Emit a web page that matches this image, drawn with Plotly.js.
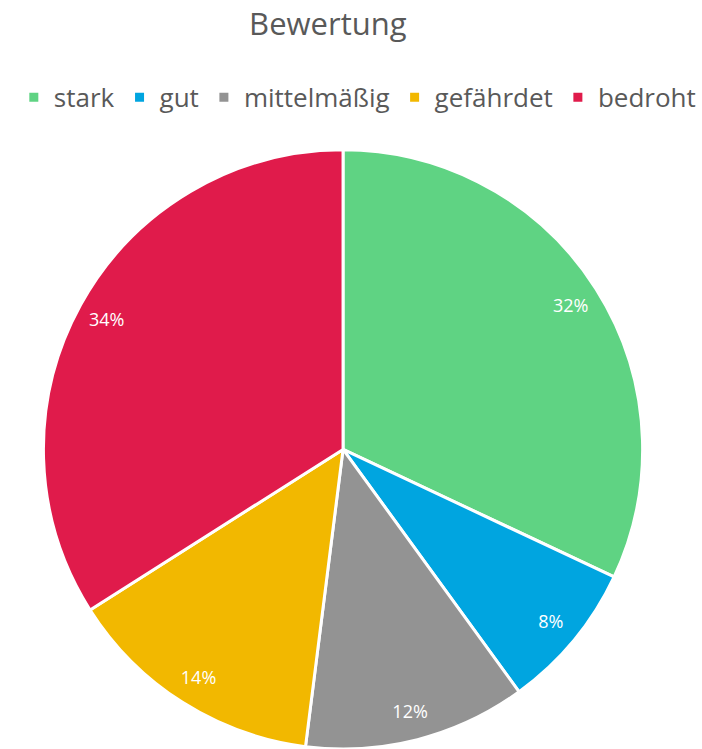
<!DOCTYPE html>
<html>
<head>
<meta charset="utf-8">
<script src="https://cdn.plot.ly/plotly-3.0.1.min.js"></script>
<style>html,body{margin:0;padding:0;background:#fff;}#chart{width:702px;height:749px;}</style>
</head>
<body>
<div id="chart"></div>
<script>
const categories = ["stark", "gut", "mittelmäßig", "gefährdet", "bedroht"];
const values = [32, 8, 12, 14, 34];
const colors = ["#5FD383", "#00A5E0", "#939393", "#F2B800", "#E01B4B"];
const chartTitle = "Bewertung";

const FONT = "'Open Sans', sans-serif";
const DOMAIN = {x: [0.0613, 0.916], y: [0, 0.8]};

const pieBase = {
  type: "pie",
  labels: categories,
  values: values,
  sort: false,
  direction: "clockwise",
  rotation: 0,
  domain: DOMAIN
};

Plotly.newPlot("chart", [
  Object.assign({}, pieBase, {
    marker: {colors: colors, line: {color: "#ffffff", width: 3}},
    textinfo: "none",
    hoverinfo: "label+percent"
  }),
  Object.assign({}, pieBase, {
    hole: 0.8,
    showlegend: false,
    marker: {colors: categories.map(() => "rgba(0,0,0,0)"), line: {width: 0}},
    textinfo: "percent",
    texttemplate: "%{percent:.0%}",
    textposition: "inside",
    insidetextorientation: "horizontal",
    textfont: {family: FONT, size: 18, color: "#ffffff"},
    hoverinfo: "skip"
  })
], {
  width: 702,
  height: 749,
  margin: {l: 0, r: 0, t: 0, b: 0},
  paper_bgcolor: "#ffffff",
  title: {text: chartTitle, font: {family: FONT, size: 31, color: "#595959"}, x: 0.467, xanchor: "center", y: 0.968, yanchor: "middle"},
  showlegend: true,
  legend: {orientation: "h", x: 0.509, xanchor: "center", y: 0.87, yanchor: "middle", font: {family: FONT, size: 26, color: "#595959"}, itemwidth: 30, traceorder: "normal"}
}, {displayModeBar: false, staticPlot: true});
</script>
</body>
</html>
